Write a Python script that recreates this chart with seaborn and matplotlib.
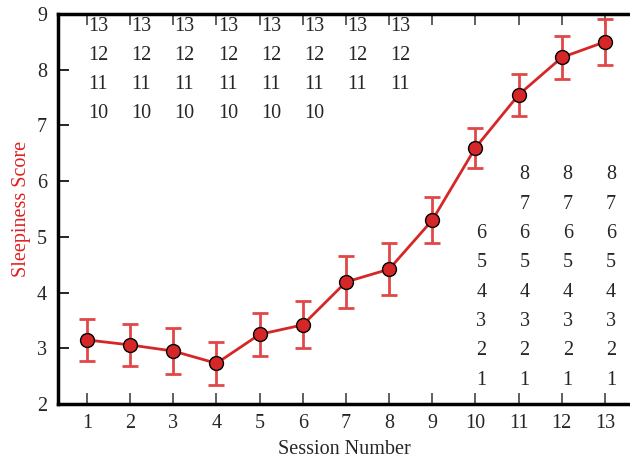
import matplotlib
matplotlib.use("Agg")
import matplotlib.pyplot as plt
import seaborn as sns
import pandas as pd

sessions = [1, 2, 3, 4, 5, 6, 7, 8, 9, 10, 11, 12, 13]
means = [3.15, 3.06, 2.95, 2.73, 3.25, 3.42, 4.19, 4.42, 5.30, 6.60, 7.55, 8.22, 8.50]
errors = [0.38, 0.37, 0.41, 0.38, 0.39, 0.42, 0.47, 0.47, 0.41, 0.36, 0.38, 0.38, 0.41]

upper_cols = [1, 2, 3, 4, 5, 6, 7, 8]
upper_lowest = [10, 10, 10, 10, 10, 10, 11, 11]
upper_highest = 13
lower_cols = [10, 11, 12, 13]
lower_highest = [6, 8, 8, 8]

x_ticks = sessions
y_ticks = [2, 3, 4, 5, 6, 7, 8, 9]

sns.set_style("ticks")
plt.rcParams["font.family"] = ["Liberation Serif", "DejaVu Serif"]

df = pd.DataFrame({"Session Number": sessions, "Sleepiness Score": means})

fig = plt.figure(figsize=(6.3, 4.61), dpi=100)
ax = fig.add_axes([58 / 630, 57 / 461, 572 / 630, 390 / 461])

red = "#d62728"
ax.errorbar(sessions, means, yerr=errors, fmt="none", ecolor="#e04848",
            elinewidth=2, capsize=5.5, capthick=2, zorder=2)
sns.lineplot(data=df, x="Session Number", y="Sleepiness Score", ax=ax,
             color=red, linewidth=2, marker="o", markersize=10,
             markerfacecolor=red, markeredgecolor="black",
             markeredgewidth=1, zorder=3)

ax.set_xlim(0.328, 13.58)
ax.set_ylim(2, 9)
ax.set_xticks(x_ticks)
ax.set_yticks(y_ticks)

for s in ["left", "bottom", "top"]:
    ax.spines[s].set_linewidth(2.5)
    ax.spines[s].set_color("black")
ax.spines["right"].set_visible(False)

fs = 14.5
ax.tick_params(axis="x", direction="in", length=8, width=1.2, color="#444444",
               top=True, bottom=True, labelsize=fs, pad=7)
ax.tick_params(axis="y", direction="in", length=8, width=1.2, color="black",
               left=True, right=False, labelsize=fs, pad=8)

ax.set_xlabel("Session Number", fontsize=fs, labelpad=5)
ax.set_ylabel("Sleepiness Score", fontsize=fs, color="#e02020", labelpad=4)

# number labels in columns
for c, lo in zip(upper_cols, upper_lowest):
    for i, n in enumerate(range(upper_highest, lo - 1, -1)):
        ax.text(c + 0.03, 8.77 - i * 0.517, str(n), fontsize=fs,
                ha="left", va="center")
for c, hi in zip(lower_cols, lower_highest):
    for n in range(1, hi + 1):
        ax.text(c + 0.02, 2.43 + (n - 1) * 0.526, str(n), fontsize=fs,
                ha="left", va="center")

fig.savefig("out.png", dpi=100)
